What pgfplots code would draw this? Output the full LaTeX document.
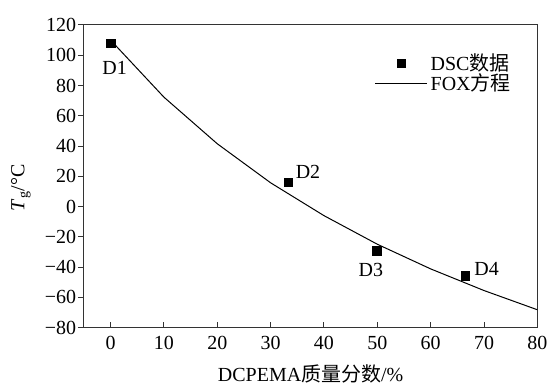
\documentclass[border=0pt]{standalone}
\usepackage{pgfplots}
\pgfplotsset{compat=1.18}
\usepackage{fontspec}
\setmainfont{Liberation Serif}
\newfontfamily\cjk{Noto Sans CJK SC}
\begin{document}
\fontsize{20bp}{24bp}\selectfont
\begin{tikzpicture}
\begin{axis}[
  scale only axis,
  width=454bp, height=303bp,
  xmin=-5, xmax=80, ymin=-80, ymax=120,
  xtick={0,10,...,80},
  ytick={-80,-60,...,120},
  yticklabels={−80,−60,−40,−20,0,20,40,60,80,100,120},
  xtick pos=bottom, ytick pos=left,
  xtick align=inside, ytick align=outside,
  major tick length=6bp,
  axis line style={line width=1bp, black!80},
  every tick/.style={line width=1bp, black!80},
  /pgf/number format/assume math mode=true,
  xticklabel style={yshift=-2bp},
  yticklabel style={inner xsep=1.5bp},
  xlabel={DCPEMA{\cjk 质量分数}/\%},
  ylabel={\textit{T}\textsubscript{g}/°C},
  xlabel style={at={(axis description cs:0.5,-0.152)}, anchor=center},
  ylabel style={at={(axis description cs:-0.139,0.462)}, anchor=center},
  legend cell align=left,
  legend style={at={(axis description cs:0.641,0.906)}, anchor=north west,
    draw=none, fill=none, inner sep=0pt, row sep=0pt, column sep=3bp,
    nodes={inner sep=0pt, minimum height=17bp, anchor=base west}},
  legend image code/.code={\draw[mark repeat=2,mark phase=2,#1] plot coordinates {(0bp,7bp) (26bp,7bp) (52bp,7bp)};},
]
\addplot[only marks, mark=square*, mark size=4.2bp, black] coordinates {
  (0,107.9) (33.3,16.2) (49.9,-29.2) (66.5,-45.7)
};
\addlegendentry{DSC{\cjk 数据}}
\addplot[no marks, black, line width=1bp] coordinates {
  (0,110) (10,72.3) (20,41.5) (30,15.7) (40,-6.0) (50,-24.9) (60,-41.2) (70,-55.5) (80,-68.2)
};
\addlegendentry{FOX{\cjk 方程}}
\node at (axis cs:0.75,91.6) {D1};
\node at (axis cs:37,23) {D2};
\node at (axis cs:48.8,-41.7) {D3};
\node at (axis cs:70.5,-41) {D4};
\end{axis}
\useasboundingbox (-84bp,-58bp) rectangle (470bp,328bp);
\end{tikzpicture}
\end{document}
